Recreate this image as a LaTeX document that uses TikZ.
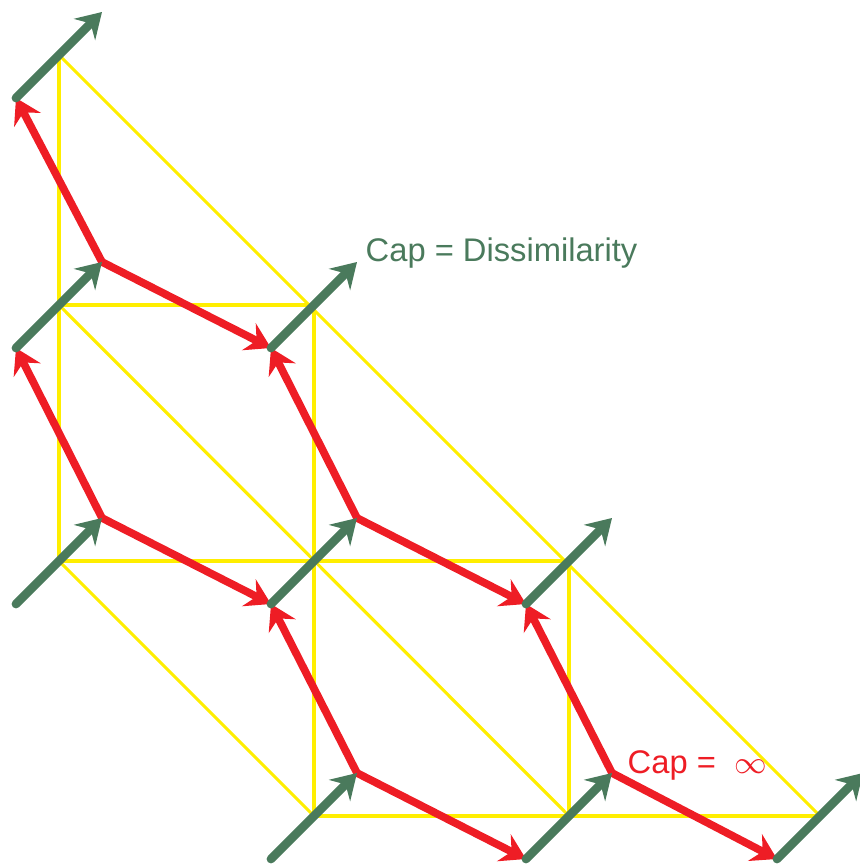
\documentclass[tikz,border=0pt]{standalone}
\usepackage{fontspec}
\setmainfont{Liberation Sans}
\usetikzlibrary{arrows.meta, calc}
\definecolor{cgreen}{HTML}{4A7A5C}
\definecolor{cred}{HTML}{EE1D25}
\definecolor{cyellow}{HTML}{FFEE00}
\tikzset{
  every picture/.style={x=0.01cm, y=-0.01cm, font=\fontsize{9.3}{11}\selectfont},
  mesh/.style={draw=cyellow, line width=0.9pt},
  flow/.style={-{Stealth[length=7pt, width=8.5pt, inset=2.4pt]}, draw=cgreen, line width=2.5pt, line cap=round},
  cut/.style={-{Stealth[length=7pt, width=8.5pt, inset=2.4pt]}, draw=cred, line width=2.2pt},
  caplabel/.style={anchor=base west, inner sep=0pt},
}

\begin{document}
\begin{tikzpicture}
  \useasboundingbox (0,0) rectangle (859,864);
  % grid corners
  \coordinate (c00) at (59,55);
  \coordinate (c01) at (59,305);  \coordinate (c11) at (314,305);
  \coordinate (c02) at (59,561);  \coordinate (c12) at (314,561); \coordinate (c22) at (569,561);
  \coordinate (c13) at (314,816); \coordinate (c23) at (569,816); \coordinate (c33) at (820,816);
  % tails and tips of the green edges
  \coordinate (t00) at ($(c00)+(-43,43)$); \coordinate (h00) at ($(c00)+(43,-43)$);
  \coordinate (t01) at ($(c01)+(-43,43)$); \coordinate (h01) at ($(c01)+(43,-43)$);
  \coordinate (t11) at ($(c11)+(-43,43)$); \coordinate (h11) at ($(c11)+(43,-43)$);
  \coordinate (t02) at ($(c02)+(-43,43)$); \coordinate (h02) at ($(c02)+(43,-43)$);
  \coordinate (t12) at ($(c12)+(-43,43)$); \coordinate (h12) at ($(c12)+(43,-43)$);
  \coordinate (t22) at ($(c22)+(-43,43)$); \coordinate (h22) at ($(c22)+(43,-43)$);
  \coordinate (t13) at ($(c13)+(-43,43)$); \coordinate (h13) at ($(c13)+(43,-43)$);
  \coordinate (t23) at ($(c23)+(-43,43)$); \coordinate (h23) at ($(c23)+(43,-43)$);
  \coordinate (t33) at ($(c33)+(-43,43)$); \coordinate (h33) at ($(c33)+(43,-43)$);

  % yellow triangulation
  \draw[mesh] (c00) -- (c02); \draw[mesh] (c11) -- (c13); \draw[mesh] (c22) -- (c23);
  \draw[mesh] (c01) -- (c11); \draw[mesh] (c02) -- (c22); \draw[mesh] (c13) -- (c33);
  \draw[mesh] (c00) -- (c33); \draw[mesh] (c01) -- (c23); \draw[mesh] (c02) -- (c13);

  % red edges
  \draw[cut] (h01) -- (t00); \draw[cut] (h01) -- (t11);
  \draw[cut] (h02) -- (t01); \draw[cut] (h02) -- (t12);
  \draw[cut] (h12) -- (t11); \draw[cut] (h12) -- (t22);
  \draw[cut] (h13) -- (t12); \draw[cut] (h13) -- (t23);
  \draw[cut] (h23) -- (t22); \draw[cut] (h23) -- (t33);

  % green edges
  \draw[flow] (t00) -- (h00);
  \draw[flow] (t01) -- (h01); \draw[flow] (t11) -- (h11);
  \draw[flow] (t02) -- (h02); \draw[flow] (t12) -- (h12); \draw[flow] (t22) -- (h22);
  \draw[flow] (t13) -- (h13); \draw[flow] (t23) -- (h23); \draw[flow] (t33) -- (h33);

  \node[caplabel, text=cgreen] (capd) at ([xshift=0.08cm]h11) {Cap = Dissimilarity};
  \node[caplabel, text=cred] (capi) at ([xshift=0.15cm]h23) {Cap = \ $\infty$};
\end{tikzpicture}
\end{document}
